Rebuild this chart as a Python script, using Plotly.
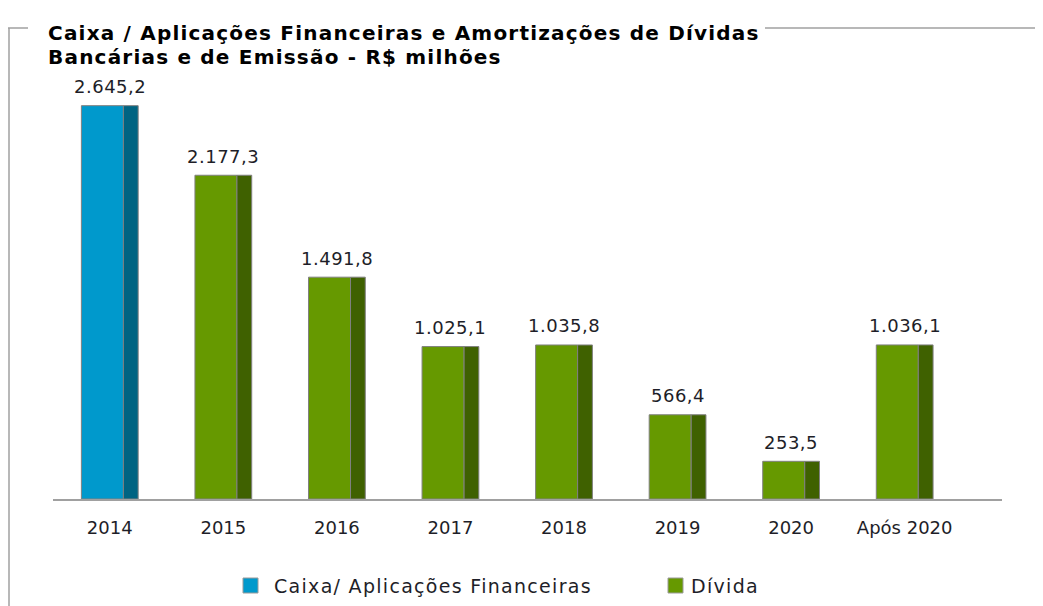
import plotly.graph_objects as go

categories = ["2014", "2015", "2016", "2017", "2018", "2019", "2020", "Após 2020"]
cash_values = [2645.2]
debt_values = [2177.3, 1491.8, 1025.1, 1035.8, 566.4, 253.5, 1036.1]
value_labels = ["2.645,2", "2.177,3", "1.491,8", "1.025,1", "1.035,8",
                "566,4", "253,5", "1.036,1"]
legend_names = ["Caixa/ Aplicações Financeiras", "Dívida"]

# page body has an 8px margin, so reference pixel = figure pixel + 8
OFF = 8
W, H = 1043, 606
ML, MR, MT, MB = 45, 49, 52, 115
PW, PH = W - ML - MR, H - MT - MB

FONT = "DejaVu Sans"
TXT = "#1e1e28"
EDGE = "#808080"
BLUE, BLUE_SIDE = "#0099cc", "#006482"
GREEN, GREEN_SIDE = "#669900", "#3f6100"


def rx(px):
    return (px - OFF - ML) / PW


def ry(py):
    return (H - MB - (py - OFF)) / PH


def spaced(s, sp):
    return f"<span style='letter-spacing:{sp}px'>{s}</span>"


idx = list(range(len(categories)))
cash_x = idx[:1]
debt_x = idx[1:]

fig = go.Figure()

# front faces + darker side faces for the pseudo-3D look
for xs, ys, name, front, side in [
    (cash_x, cash_values, legend_names[0], BLUE, BLUE_SIDE),
    (debt_x, debt_values, legend_names[1], GREEN, GREEN_SIDE),
]:
    fig.add_trace(go.Bar(
        x=xs, y=ys, name=name, width=0.37, offset=-0.25,
        marker=dict(color=front, line=dict(color=EDGE, width=1)),
        hoverinfo="skip",
    ))
    fig.add_trace(go.Bar(
        x=xs, y=ys, width=0.13, offset=0.12, showlegend=False,
        marker=dict(color=side, line=dict(color=EDGE, width=1)),
        hoverinfo="skip",
    ))

annotations = []
for x, v, lab in zip(idx, cash_values + debt_values, value_labels):
    annotations.append(dict(
        x=x, y=v, text=spaced(lab, 0.5), showarrow=False,
        xanchor="center", yanchor="middle", yshift=19,
        font=dict(family=FONT, size=18, color=TXT)))

title_font = dict(family=FONT, size=20, color="#000000")
annotations += [
    dict(text="<b>" + spaced("Caixa / Aplicações Financeiras e Amortizações de Dívidas", 1.2) + "</b>",
         xref="paper", yref="paper", x=rx(46), y=ry(33),
         xanchor="left", yanchor="middle", showarrow=False, font=title_font),
    dict(text="<b>" + spaced("Bancárias e de Emissão - R$ milhões", 1.2) + "</b>",
         xref="paper", yref="paper", x=rx(46), y=ry(57),
         xanchor="left", yanchor="middle", showarrow=False, font=title_font),
]

# legend drawn by hand so both entries sit on one row like the original
legend_items = [(243, 272, BLUE, legend_names[0]), (668, 689, GREEN, legend_names[1])]
shapes = []
for sx, tx, col, name in legend_items:
    shapes.append(dict(type="rect", xref="paper", yref="paper",
                       x0=rx(sx), x1=rx(sx + 15), y0=ry(578), y1=ry(593),
                       fillcolor=col, line=dict(color="#9a9a9a", width=1)))
    annotations.append(dict(text=spaced(name, 1.3), xref="paper", yref="paper",
                            x=rx(tx), y=ry(586), xanchor="left", yanchor="middle",
                            showarrow=False,
                            font=dict(family=FONT, size=19, color=TXT)))

frame = dict(color="#a0a0a0", width=1.5)
shapes += [
    dict(type="line", xref="paper", yref="paper",
         x0=rx(8), x1=rx(28), y0=ry(28), y1=ry(28), line=frame),
    dict(type="line", xref="paper", yref="paper",
         x0=rx(765), x1=rx(1043), y0=ry(28), y1=ry(28), line=frame),
    dict(type="line", xref="paper", yref="paper",
         x0=rx(9), x1=rx(9), y0=ry(28), y1=ry(606), line=frame),
]

fig.update_layout(
    width=W, height=H,
    margin=dict(l=ML, r=MR, t=MT, b=MB),
    paper_bgcolor="white", plot_bgcolor="white",
    barmode="overlay", showlegend=False,
    shapes=shapes, annotations=annotations,
    font=dict(family=FONT, size=18, color=TXT),
    xaxis=dict(range=[-0.5, 7.857], tickmode="array", tickvals=idx,
               ticktext=categories,
               showgrid=False, zeroline=False,
               showline=True, linecolor="#a0a0a0", linewidth=2,
               ticks="", ticklabelstandoff=11,
               tickfont=dict(family=FONT, size=18, color=TXT)),
    yaxis=dict(range=[0, PH / 0.1487], visible=False, fixedrange=True),
)

fig.write_html("out.html")
